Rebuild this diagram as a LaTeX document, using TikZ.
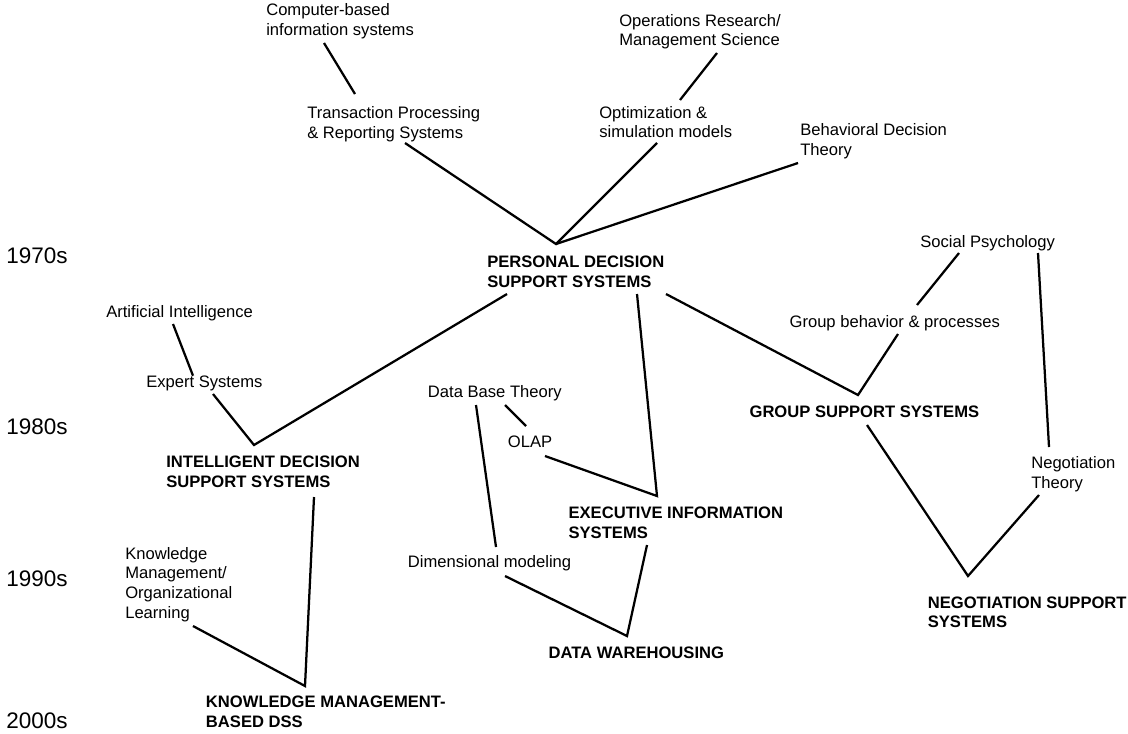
\documentclass[tikz,border=0pt]{standalone}
\usepackage{fontspec}
\setmainfont{Liberation Sans}
\usetikzlibrary{calc}

\tikzset{
  topic/.style={anchor=base west, inner sep=0pt, align=left, font=\fontsize{11.8}{14}\selectfont},
  system/.style={topic, font=\fontsize{11.8}{14}\selectfont\bfseries},
  decade/.style={anchor=base west, inner sep=0pt, font=\fontsize{16}{19}\selectfont},
  link/.style={line width=1.6pt},
}

\begin{document}
\begin{tikzpicture}[x=0.025cm, y=-0.025cm]
    \useasboundingbox (0,0) rectangle (1128,733);

    % Decades
    \node[decade] (y70) at (6,263.3) {1970s};
    \node[decade] (y80) at (6,434) {1980s};
    \node[decade] (y90) at (6,586) {1990s};
    \node[decade] (y00) at (6,728.3) {2000s};

    % Reference disciplines (placed at the baseline of their last line)
    \node[topic] (cbis) at (266,35.2) {Computer-based\\information systems};
    \node[topic] (tps) at (307,138.2) {Transaction Processing\\\& Reporting Systems};
    \node[topic] (orms) at (619,45.7) {Operations Research/\\Management Science};
    \node[topic] (opt) at (599,137.7) {Optimization \&\\simulation models};
    \node[topic] (bdt) at (800,155.2) {Behavioral Decision\\Theory};
    \node[topic] (ai) at (106,317.3) {Artificial Intelligence};
    \node[topic] (es) at (146,387) {Expert Systems};
    \node[topic] (dbt) at (427.7,397.5) {Data Base Theory};
    \node[topic] (olap) at (507.7,447.3) {OLAP};
    \node[topic] (dm) at (407.7,567.5) {Dimensional modeling};
    \node[topic] (sp) at (920,247.5) {Social Psychology};
    \node[topic] (gbp) at (789.3,327.3) {Group behavior \& processes};
    \node[topic] (nt) at (1031,488) {Negotiation\\Theory};
    \node[topic] (km) at (125,618.3) {Knowledge\\Management/\\Organizational\\Learning};

    % Systems
    \node[system] (pdss) at (487,287.2) {PERSONAL DECISION\\SUPPORT SYSTEMS};
    \node[system] (idss) at (166,487.2) {INTELLIGENT DECISION\\SUPPORT SYSTEMS};
    \node[system] (eis) at (568.3,538) {EXECUTIVE INFORMATION\\SYSTEMS};
    \node[system] (gss) at (749.3,417.3) {GROUP SUPPORT SYSTEMS};
    \node[system] (dw) at (548.3,658.3) {DATA WAREHOUSING};
    \node[system] (nss) at (927.5,627.7) {NEGOTIATION SUPPORT\\SYSTEMS};
    \node[system] (kmdss) at (205.7,727) {KNOWLEDGE MANAGEMENT-\\BASED DSS};

    % Joints above the systems
    \coordinate (pdss-in) at ($(pdss.base west)+(69,-43.2)$);
    \coordinate (idss-in) at ($(idss.base west)+(88,-42.2)$);
    \coordinate (eis-in) at ($(eis.base west)+(88.7,-42)$);
    \coordinate (gss-in) at ($(gss.base west)+(108.7,-22.3)$);
    \coordinate (dw-in) at ($(dw.base west)+(78.7,-22.3)$);
    \coordinate (nss-in) at ($(nss.base west)+(40.5,-51.7)$);
    \coordinate (kmdss-in) at ($(kmdss.base west)+(99.3,-41)$);

    % Links
    \draw[link] ($(cbis.base west)+(58,7.8)$) -- ($(tps.base west)+(48,-44.2)$);
    \draw[link] ($(orms.base west)+(98,7.3)$) -- ($(opt.base west)+(81,-37.7)$);
    \draw[link] ($(tps.base west)+(98,4.8)$) -- (pdss-in) -- ($(opt.base west)+(58,5.3)$);
    \draw[link] (pdss-in) -- ($(bdt.base west)+(-2,7.8)$);

    \draw[link] ($(ai.base west)+(67,6.7)$) -- ($(es.base west)+(47,-11.3)$);
    \draw[link] ($(es.base west)+(67,7)$) -- (idss-in) -- ($(pdss.base west)+(20,6.8)$);

    \draw[link] ($(dbt.base west)+(77.3,7.5)$) -- ($(olap.base west)+(18.3,-21.3)$);
    \draw[link] ($(olap.base west)+(37.3,8.7)$) -- (eis-in) -- ($(pdss.base west)+(150,6.8)$);
    \draw[link] ($(dbt.base west)+(48.3,7.5)$) -- ($(dm.base west)+(88.3,-20.5)$);
    \draw[link] ($(dm.base west)+(97.3,8.5)$) -- (dw-in) -- ($(eis.base west)+(78.7,7)$);

    \draw[link] ($(pdss.base west)+(179,6.8)$) -- (gss-in) -- ($(gbp.base west)+(108.7,6.7)$);
    \draw[link] ($(gbp.base west)+(127.7,-22.3)$) -- ($(sp.base west)+(39,5.5)$);
    \draw[link] ($(sp.base west)+(118,5.5)$) -- ($(nt.base west)+(18,-41)$);
    \draw[link] ($(gss.base west)+(117.7,7.7)$) -- (nss-in) -- ($(nt.base west)+(8,7)$);

    \draw[link] ($(idss.base west)+(148,9.8)$) -- (kmdss-in) -- ($(km.base west)+(68,7.7)$);
\end{tikzpicture}
\end{document}
